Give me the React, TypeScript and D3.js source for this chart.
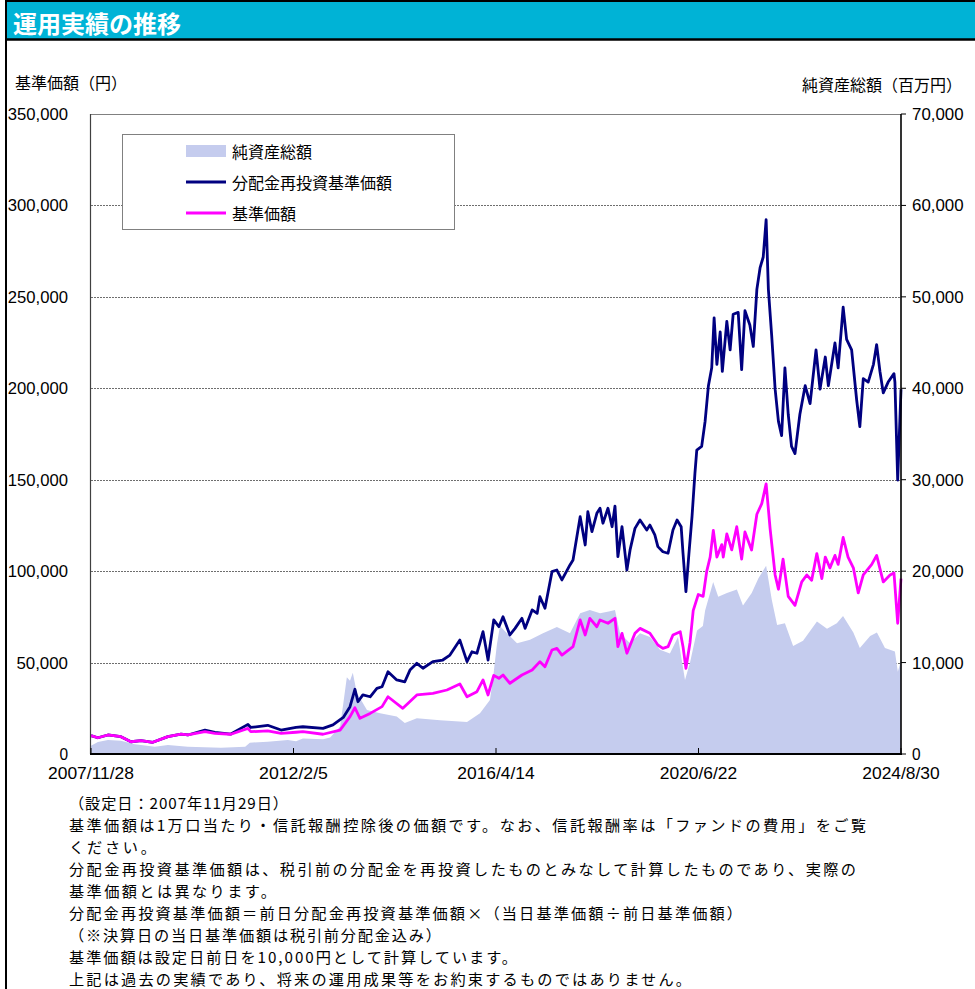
import React from "react";
import * as d3 from "d3";

// ---------- data ----------
const reinvestNav: [string, number][] = [
  ["2007-11-28", 10000], ["2008-01-19", 8900], ["2008-04-04", 10400], ["2008-07-11", 9500],
  ["2008-09-25", 6700], ["2008-12-10", 7300], ["2009-03-09", 6400], ["2009-07-01", 9500],
  ["2009-10-08", 10900], ["2009-11-29", 10400], ["2010-04-07", 13100], ["2010-06-21", 11800],
  ["2010-10-20", 10900], ["2011-02-26", 16200], ["2011-03-19", 14500], ["2011-07-25", 15700],
  ["2011-11-03", 13100], ["2012-02-24", 14600], ["2012-04-16", 14900], ["2012-09-15", 14000],
  ["2012-11-29", 15900], ["2013-02-15", 20000], ["2013-04-07", 25900], ["2013-05-14", 35400],
  ["2013-06-06", 28600], ["2013-07-13", 32300], ["2013-09-06", 31300], ["2013-10-27", 35900],
  ["2013-12-05", 36800], ["2014-01-19", 45000], ["2014-03-26", 40500], ["2014-05-26", 39500],
  ["2014-07-04", 45900], ["2014-08-25", 49600], ["2014-10-10", 46900], ["2014-12-24", 50500],
  ["2015-03-09", 51400], ["2015-05-02", 54100], ["2015-07-16", 62300], ["2015-09-08", 50500],
  ["2015-10-15", 55900], ["2015-11-22", 55100], ["2016-01-07", 66900], ["2016-02-14", 51400],
  ["2016-02-28", 58700], ["2016-03-28", 73300], ["2016-05-06", 69600], ["2016-06-06", 75100],
  ["2016-07-28", 65100], ["2016-09-05", 68700], ["2016-10-27", 74200], ["2016-11-20", 68700],
  ["2017-01-12", 78800], ["2017-02-19", 76900], ["2017-03-12", 86000], ["2017-04-19", 79700],
  ["2017-06-11", 99700], ["2017-07-18", 100600], ["2017-08-25", 95200], ["2017-10-25", 103400],
  ["2017-11-17", 106100], ["2018-01-10", 129800], ["2018-02-17", 114300], ["2018-03-09", 132500],
  ["2018-04-09", 121600], ["2018-05-16", 131600], ["2018-06-09", 134400], ["2018-07-01", 126200],
  ["2018-08-08", 134400], ["2018-09-08", 124300], ["2018-09-30", 135600], ["2018-10-22", 107900],
  ["2018-11-22", 124300], ["2018-12-29", 100600], ["2019-01-22", 111600], ["2019-02-28", 123400],
  ["2019-04-07", 128000], ["2019-05-28", 122500], ["2019-06-21", 125200], ["2019-07-28", 119800],
  ["2019-08-20", 113400], ["2019-09-27", 110600], ["2019-11-05", 109800], ["2019-12-12", 122500],
  ["2020-01-12", 128000], ["2020-02-12", 124300], ["2020-02-26", 109800], ["2020-03-19", 88800],
  ["2020-04-11", 109800], ["2020-05-04", 129800], ["2020-05-26", 153500], ["2020-06-09", 166200],
  ["2020-07-16", 168200], ["2020-08-11", 182000], ["2020-09-05", 201400], ["2020-09-30", 211200],
  ["2020-10-18", 238500], ["2020-11-08", 213100], ["2020-12-03", 230800], ["2020-12-19", 209200],
  ["2021-01-22", 236600], ["2021-02-16", 221000], ["2021-03-11", 240500], ["2021-04-18", 241500],
  ["2021-05-14", 210200], ["2021-06-08", 242400], ["2021-07-15", 234600], ["2021-08-10", 222900],
  ["2021-09-06", 254100], ["2021-09-30", 265800], ["2021-10-24", 271800], ["2021-11-15", 292200],
  ["2021-12-02", 254100], ["2021-12-27", 228800], ["2022-01-22", 199500], ["2022-02-16", 181900],
  ["2022-03-12", 174100], ["2022-04-06", 211200], ["2022-05-01", 185800], ["2022-05-26", 168200],
  ["2022-06-21", 164300], ["2022-07-28", 185800], ["2022-09-06", 201400], ["2022-10-13", 191600],
  ["2022-11-27", 221000], ["2022-12-27", 199500], ["2023-02-05", 217100], ["2023-02-28", 201400],
  ["2023-04-19", 224800], ["2023-05-13", 211200], ["2023-06-20", 244400], ["2023-07-16", 226800],
  ["2023-08-23", 221000], ["2023-09-30", 193600], ["2023-10-24", 179000], ["2023-11-19", 205300],
  ["2023-12-26", 203400], ["2024-02-04", 213100], ["2024-02-28", 223900], ["2024-03-24", 209200],
  ["2024-04-18", 197500], ["2024-05-25", 203400], ["2024-07-08", 208000], ["2024-07-15", 203400],
  ["2024-08-05", 149800], ["2024-08-30", 199500],
];

const nav: [string, number][] = [
  ["2007-11-28", 10000], ["2008-01-19", 8900], ["2008-04-04", 10400], ["2008-07-11", 9500],
  ["2008-09-25", 6700], ["2008-12-10", 7300], ["2009-03-09", 6400], ["2009-07-01", 9500],
  ["2009-10-08", 10900], ["2009-11-29", 10400], ["2010-04-07", 12200], ["2010-06-21", 11300],
  ["2010-10-20", 10800], ["2011-02-26", 14000], ["2011-03-19", 12200], ["2011-07-25", 12600],
  ["2011-11-03", 11300], ["2012-02-24", 11900], ["2012-04-16", 12200], ["2012-09-15", 10800],
  ["2013-01-22", 13100], ["2013-04-07", 20400], ["2013-05-14", 25300], ["2013-06-21", 19500],
  ["2013-09-06", 22200], ["2013-12-05", 25900], ["2014-01-19", 31300], ["2014-05-11", 25000],
  ["2014-08-25", 32300], ["2014-12-24", 33200], ["2015-04-09", 35000], ["2015-07-16", 38300],
  ["2015-09-08", 31300], ["2015-11-22", 34100], ["2016-01-07", 40500], ["2016-02-14", 32300],
  ["2016-02-28", 35900], ["2016-03-28", 43000], ["2016-05-06", 41400], ["2016-06-06", 43200],
  ["2016-07-28", 38700], ["2016-10-27", 43200], ["2017-01-12", 45900], ["2017-03-12", 50500],
  ["2017-04-19", 47700], ["2017-06-11", 56900], ["2017-07-18", 57800], ["2017-08-25", 54100],
  ["2017-11-17", 58700], ["2018-01-10", 73300], ["2018-02-17", 65100], ["2018-03-24", 74200],
  ["2018-05-16", 69600], ["2018-06-09", 73300], ["2018-08-08", 71500], ["2018-09-30", 74200],
  ["2018-10-22", 58700], ["2018-11-22", 66000], ["2018-12-29", 55100], ["2019-02-28", 66000],
  ["2019-04-07", 68700], ["2019-06-21", 66000], ["2019-08-20", 59600], ["2019-09-27", 57800],
  ["2019-11-05", 58700], ["2019-12-12", 65100], ["2020-02-05", 66900], ["2020-02-26", 58700],
  ["2020-03-19", 46900], ["2020-04-19", 61000], ["2020-05-13", 78400], ["2020-06-20", 87200],
  ["2020-07-27", 86200], ["2020-08-23", 99900], ["2020-09-18", 107700], ["2020-10-12", 122300],
  ["2020-11-08", 107700], ["2020-12-15", 114500], ["2020-12-26", 107700], ["2021-01-22", 120400],
  ["2021-02-28", 111600], ["2021-04-07", 124300], ["2021-05-14", 106600], ["2021-06-08", 121400],
  ["2021-07-28", 111600], ["2021-09-06", 131100], ["2021-10-13", 136900], ["2021-11-15", 147700],
  ["2021-12-15", 123300], ["2022-01-22", 97900], ["2022-02-16", 90100], ["2022-03-23", 106600],
  ["2022-05-01", 86200], ["2022-06-21", 81300], ["2022-08-11", 94100], ["2022-09-18", 97900],
  ["2022-10-25", 95000], ["2022-12-03", 109600], ["2023-01-10", 95900], ["2023-02-05", 107700],
  ["2023-03-12", 101800], ["2023-04-19", 108600], ["2023-05-13", 103700], ["2023-06-20", 118400],
  ["2023-07-27", 107700], ["2023-09-05", 101800], ["2023-10-12", 88100], ["2023-11-19", 97900],
  ["2024-01-22", 103700], ["2024-02-28", 108600], ["2024-04-18", 94100], ["2024-06-08", 97900],
  ["2024-07-08", 99000], ["2024-08-05", 71500], ["2024-08-30", 95900],
];

// 純資産総額 (百万円)
const netAssets: [string, number][] = [
  ["2007-11-28", 900], ["2008-01-19", 1300], ["2008-04-04", 1530], ["2008-07-11", 1460],
  ["2008-10-25", 1060], ["2009-03-24", 800], ["2009-07-01", 985], ["2009-11-29", 800],
  ["2010-08-06", 690], ["2011-02-05", 800], ["2011-03-12", 1240], ["2011-07-25", 1350],
  ["2011-12-24", 1530], ["2012-02-24", 1400], ["2012-04-16", 1700], ["2012-09-15", 1600],
  ["2012-11-08", 1800], ["2013-01-22", 3000], ["2013-02-15", 5500], ["2013-03-14", 8400],
  ["2013-04-07", 8000], ["2013-04-28", 8900], ["2013-05-28", 6700], ["2013-08-13", 4800],
  ["2013-11-20", 4450], ["2014-03-26", 4100], ["2014-05-26", 3400], ["2014-08-25", 3900],
  ["2015-02-16", 3700], ["2015-09-08", 3500], ["2015-12-15", 4450], ["2016-02-28", 5900],
  ["2016-03-21", 8100], ["2016-04-21", 12000], ["2016-05-14", 14000], ["2016-07-06", 13200],
  ["2016-09-20", 12100], ["2016-12-27", 12500], ["2017-04-04", 13200], ["2017-07-18", 13900],
  ["2017-10-25", 13200], ["2018-01-10", 15400], ["2018-03-24", 15750], ["2018-06-09", 15400],
  ["2018-08-23", 15600], ["2018-09-30", 15750], ["2018-11-07", 13200], ["2019-01-22", 12100],
  ["2019-04-07", 13200], ["2019-06-21", 12800], ["2019-09-05", 11400], ["2019-11-19", 11000],
  ["2020-01-19", 12800], ["2020-03-12", 8100], ["2020-04-19", 10000], ["2020-06-11", 13500],
  ["2020-07-25", 14000], ["2020-08-11", 15700], ["2020-10-11", 18800], ["2020-11-18", 17200],
  ["2021-01-23", 17600], ["2021-04-08", 18000], ["2021-05-24", 16250], ["2021-07-29", 17600],
  ["2021-09-17", 19200], ["2021-11-15", 20600], ["2021-12-28", 16850], ["2022-02-06", 14100],
  ["2022-04-06", 14300], ["2022-06-07", 11800], ["2022-08-21", 12400], ["2022-12-04", 14500],
  ["2023-02-18", 13700], ["2023-05-03", 14300], ["2023-06-19", 15100], ["2023-09-05", 13300],
  ["2023-10-24", 11600], ["2024-01-10", 12900], ["2024-03-01", 13300], ["2024-05-01", 11600],
  ["2024-07-15", 11200], ["2024-08-06", 9000], ["2024-08-30", 10200],
];

const leftTicks = [0, 50000, 100000, 150000, 200000, 250000, 300000, 350000];
const rightTicks = [0, 10000, 20000, 30000, 40000, 50000, 60000, 70000];
const dateTicks = ["2007-11-28", "2012-02-05", "2016-04-14", "2020-06-22", "2024-08-30"];

const title = "運用実績の推移";
const leftAxisTitle = "基準価額（円）";
const rightAxisTitle = "純資産総額（百万円）";
const legendLabels = ["純資産総額", "分配金再投資基準価額", "基準価額"];
const notes = [
  "（設定日：2007年11月29日）",
  "基準価額は1万口当たり・信託報酬控除後の価額です。なお、信託報酬率は「ファンドの費用」をご覧",
  "ください。",
  "分配金再投資基準価額は、税引前の分配金を再投資したものとみなして計算したものであり、実際の",
  "基準価額とは異なります。",
  "分配金再投資基準価額＝前日分配金再投資基準価額×（当日基準価額÷前日基準価額）",
  "（※決算日の当日基準価額は税引前分配金込み）",
  "基準価額は設定日前日を10,000円として計算しています。",
  "上記は過去の実績であり、将来の運用成果等をお約束するものではありません。",
];

// ---------- styling / layout ----------
const W = 975;
const H = 989;
const P = { left: 91, right: 901, top: 114, bottom: 754 };
const JP = "'Noto Sans CJK JP', 'Noto Sans', sans-serif";
const NUM = "'Liberation Sans', Arial, sans-serif";
const NUM_CELL = 8.6; // width per character of the narrow numeric font
const CYAN = "#00b3d6";
const NAVY = "#000080";
const MAGENTA = "#ff00ff";
const AREA = "#c5ccee";
const noteWidths = [219, 797, 87, 787, 207, 673, 372, 448, 622];

const parse = d3.timeParse("%Y-%m-%d");
const fmtDate = d3.timeFormat("%Y/%-m/%-d");
const fmtNum = d3.format(",");

function NumText(props: {
  x: number;
  y: number;
  anchor: "start" | "middle" | "end";
  children: string;
}) {
  const s = props.children;
  return (
    <text
      x={props.x}
      y={props.y}
      fontFamily={NUM}
      fontSize={16.5}
      textAnchor={props.anchor}
      dominantBaseline="central"
      textLength={s.length * NUM_CELL}
      lengthAdjust="spacingAndGlyphs"
    >
      {s}
    </text>
  );
}

export default function App() {
  const x = d3
    .scaleTime()
    .domain([parse(dateTicks[0])!, parse(dateTicks[dateTicks.length - 1])!])
    .range([P.left, P.right]);
  const yL = d3.scaleLinear().domain([0, 350000]).range([P.bottom, P.top]);
  const yR = d3.scaleLinear().domain([0, 70000]).range([P.bottom, P.top]);

  const areaGen = d3
    .area<[string, number]>()
    .x((d) => x(parse(d[0])!))
    .y0(P.bottom)
    .y1((d) => yR(d[1]));
  const lineL = d3
    .line<[string, number]>()
    .x((d) => x(parse(d[0])!))
    .y((d) => yL(d[1]));

  return (
    <svg
      width={W}
      height={H}
      viewBox={`0 0 ${W} ${H}`}
      style={{ position: "absolute", left: 0, top: 0, background: "#fff" }}
    >
      <rect x={0} y={0} width={W} height={H} fill="#fff" />
      {/* header */}
      <rect x={6} y={1} width={W} height={38} fill={CYAN} />
      <line x1={6} x2={W} y1={1} y2={1} stroke="#000" strokeWidth={2} />
      <line x1={6} x2={W} y1={39.5} y2={39.5} stroke="#000" strokeWidth={2.5} />
      <line x1={6} x2={6} y1={0} y2={H} stroke="#000" strokeWidth={2} />
      <text
        x={13}
        y={22}
        fill="#fff"
        fontFamily={JP}
        fontWeight="bold"
        fontSize={24}
        dominantBaseline="central"
      >
        {title}
      </text>

      {/* axis titles */}
      <text x={15} y={82} fontFamily={JP} fontSize={16} dominantBaseline="central">
        {leftAxisTitle}
      </text>
      <text x={962} y={84} fontFamily={JP} fontSize={16} textAnchor="end" dominantBaseline="central">
        {rightAxisTitle}
      </text>

      {/* gridlines */}
      {leftTicks
        .filter((t) => t > 0 && t < 350000)
        .map((t) => (
          <line
            key={"g" + t}
            x1={P.left}
            x2={P.right}
            y1={Math.round(yL(t)) + 0.5}
            y2={Math.round(yL(t)) + 0.5}
            stroke="#6e6e6e"
            strokeWidth={1}
            strokeDasharray="2 1"
          />
        ))}

      {/* net assets area */}
      <path d={areaGen(netAssets) || ""} fill={AREA} />

      {/* lines */}
      <path d={lineL(reinvestNav) || ""} fill="none" stroke={NAVY} strokeWidth={2.8} strokeLinejoin="round" />
      <path d={lineL(nav) || ""} fill="none" stroke={MAGENTA} strokeWidth={2.8} strokeLinejoin="round" />

      {/* frame */}
      <line x1={P.left} x2={P.right} y1={P.top + 0.5} y2={P.top + 0.5} stroke="#808080" strokeWidth={1.2} />
      <line x1={P.left - 0.5} x2={P.left - 0.5} y1={P.top} y2={P.bottom} stroke="#404040" strokeWidth={1.2} />
      <line x1={P.right} x2={P.right} y1={P.top} y2={P.bottom + 1} stroke="#000" strokeWidth={1.6} />
      <line x1={P.left - 1} x2={P.right + 1} y1={P.bottom} y2={P.bottom} stroke="#000" strokeWidth={2} />

      {/* right ticks */}
      {rightTicks.map((t) => (
        <line key={"rt" + t} x1={P.right} x2={P.right + 5} y1={yR(t)} y2={yR(t)} stroke="#000" strokeWidth={1} />
      ))}
      {/* x ticks */}
      {dateTicks.map((d) => (
        <line
          key={"xt" + d}
          x1={x(parse(d)!)}
          x2={x(parse(d)!)}
          y1={P.bottom}
          y2={P.bottom - 6}
          stroke="#000"
          strokeWidth={1}
        />
      ))}

      {/* tick labels */}
      {leftTicks.map((t) => (
        <NumText key={"lt" + t} x={68} y={yL(t)} anchor="end">
          {fmtNum(t)}
        </NumText>
      ))}
      {rightTicks.map((t) => (
        <NumText key={"rl" + t} x={912} y={yR(t)} anchor="start">
          {fmtNum(t)}
        </NumText>
      ))}
      {dateTicks.map((d) => (
        <NumText key={"xl" + d} x={x(parse(d)!)} y={773} anchor="middle">
          {fmtDate(parse(d)!)}
        </NumText>
      ))}

      {/* legend */}
      <rect x={122.5} y={134.5} width={332} height={95} fill="#fff" stroke="#808080" strokeWidth={1} />
      <rect x={186} y={145} width={40} height={12} fill={AREA} />
      <line x1={186} x2={226} y1={182} y2={182} stroke={NAVY} strokeWidth={2.8} />
      <line x1={186} x2={226} y1={213} y2={213} stroke={MAGENTA} strokeWidth={2.8} />
      {legendLabels.map((l, i) => (
        <text key={l} x={232} y={151 + i * 31} fontFamily={JP} fontSize={16} dominantBaseline="central">
          {l}
        </text>
      ))}

      {/* notes */}
      {notes.map((n, i) => (
        <text
          key={i}
          x={69}
          y={801.5 + i * 22.1}
          fontFamily={JP}
          fontSize={15.2}
          dominantBaseline="central"
          textLength={noteWidths[i]}
          lengthAdjust="spacing"
        >
          {n}
        </text>
      ))}
    </svg>
  );
}
